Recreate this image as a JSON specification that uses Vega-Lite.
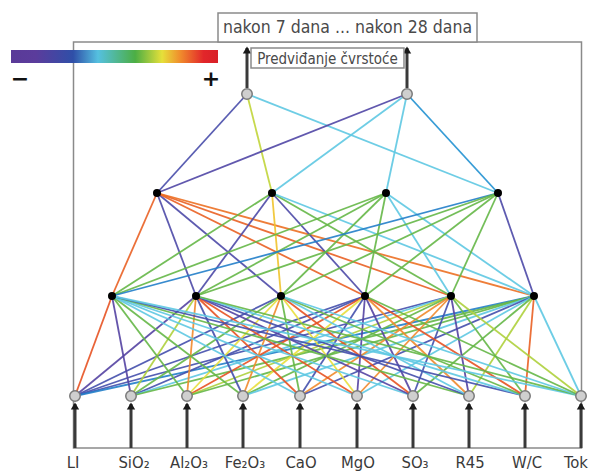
{
  "$schema": "https://vega.github.io/schema/vega-lite/v6.json",
  "width": 590,
  "height": 471,
  "padding": 0,
  "autosize": {"type": "none"},
  "background": "white",
  "config": {"view": {"stroke": null}},
  "datasets": {
    "nodes": [
      {"id": "i1", "kind": "io", "x": 75, "y": 396},
      {"id": "i2", "kind": "io", "x": 131, "y": 396},
      {"id": "i3", "kind": "io", "x": 187, "y": 396},
      {"id": "i4", "kind": "io", "x": 243, "y": 396},
      {"id": "i5", "kind": "io", "x": 300, "y": 396},
      {"id": "i6", "kind": "io", "x": 357, "y": 396},
      {"id": "i7", "kind": "io", "x": 413, "y": 396},
      {"id": "i8", "kind": "io", "x": 469, "y": 396},
      {"id": "i9", "kind": "io", "x": 525, "y": 396},
      {"id": "i10", "kind": "io", "x": 581, "y": 396},
      {"id": "a", "kind": "hidden", "x": 112, "y": 296},
      {"id": "b", "kind": "hidden", "x": 196, "y": 296},
      {"id": "c", "kind": "hidden", "x": 281, "y": 296},
      {"id": "d", "kind": "hidden", "x": 365, "y": 296},
      {"id": "e", "kind": "hidden", "x": 451, "y": 296},
      {"id": "f", "kind": "hidden", "x": 534, "y": 296},
      {"id": "A", "kind": "hidden", "x": 157, "y": 193},
      {"id": "B", "kind": "hidden", "x": 272, "y": 193},
      {"id": "C", "kind": "hidden", "x": 386, "y": 193},
      {"id": "D", "kind": "hidden", "x": 498, "y": 193},
      {"id": "o1", "kind": "io", "x": 247, "y": 94},
      {"id": "o2", "kind": "io", "x": 407, "y": 94}
    ],
    "edges": [
      {"s": "i1", "t": "a", "w": 0.9}, {"s": "i1", "t": "b", "w": -0.9}, {"s": "i1", "t": "c", "w": -0.7}, {"s": "i1", "t": "d", "w": -0.7}, {"s": "i1", "t": "e", "w": -0.7}, {"s": "i1", "t": "f", "w": -0.5},
      {"s": "i2", "t": "a", "w": -0.9}, {"s": "i2", "t": "b", "w": 0.25}, {"s": "i2", "t": "c", "w": 0.05}, {"s": "i2", "t": "d", "w": -0.7}, {"s": "i2", "t": "e", "w": -0.3}, {"s": "i2", "t": "f", "w": 0.05},
      {"s": "i3", "t": "a", "w": 0.05}, {"s": "i3", "t": "b", "w": 0.7}, {"s": "i3", "t": "c", "w": 0.4}, {"s": "i3", "t": "d", "w": 0.9}, {"s": "i3", "t": "e", "w": 0.25}, {"s": "i3", "t": "f", "w": 0.05},
      {"s": "i4", "t": "a", "w": 0.05}, {"s": "i4", "t": "b", "w": -0.7}, {"s": "i4", "t": "c", "w": 0.7}, {"s": "i4", "t": "d", "w": 0.4}, {"s": "i4", "t": "e", "w": 0.05}, {"s": "i4", "t": "f", "w": -0.3},
      {"s": "i5", "t": "a", "w": -0.3}, {"s": "i5", "t": "b", "w": 0.9}, {"s": "i5", "t": "c", "w": 0.05}, {"s": "i5", "t": "d", "w": -0.7}, {"s": "i5", "t": "e", "w": 0.7}, {"s": "i5", "t": "f", "w": -0.7},
      {"s": "i6", "t": "a", "w": -0.3}, {"s": "i6", "t": "b", "w": 0.9}, {"s": "i6", "t": "c", "w": 0.4}, {"s": "i6", "t": "d", "w": -0.9}, {"s": "i6", "t": "e", "w": 0.7}, {"s": "i6", "t": "f", "w": -0.3},
      {"s": "i7", "t": "a", "w": -0.3}, {"s": "i7", "t": "b", "w": -0.9}, {"s": "i7", "t": "c", "w": 0.9}, {"s": "i7", "t": "d", "w": -0.9}, {"s": "i7", "t": "e", "w": -0.7}, {"s": "i7", "t": "f", "w": 0.05},
      {"s": "i8", "t": "a", "w": 0.05}, {"s": "i8", "t": "b", "w": -0.7}, {"s": "i8", "t": "c", "w": -0.3}, {"s": "i8", "t": "d", "w": 0.7}, {"s": "i8", "t": "e", "w": -0.9}, {"s": "i8", "t": "f", "w": 0.25},
      {"s": "i9", "t": "a", "w": -0.7}, {"s": "i9", "t": "b", "w": -0.3}, {"s": "i9", "t": "c", "w": 0.05}, {"s": "i9", "t": "d", "w": 0.9}, {"s": "i9", "t": "e", "w": 0.05}, {"s": "i9", "t": "f", "w": 0.85},
      {"s": "i10", "t": "a", "w": -0.3}, {"s": "i10", "t": "b", "w": 0.05}, {"s": "i10", "t": "c", "w": -0.3}, {"s": "i10", "t": "d", "w": 0.05}, {"s": "i10", "t": "e", "w": 0.25}, {"s": "i10", "t": "f", "w": -0.3},
      {"s": "a", "t": "A", "w": 0.85}, {"s": "b", "t": "A", "w": -0.8}, {"s": "c", "t": "A", "w": -0.8}, {"s": "d", "t": "A", "w": 0.85}, {"s": "e", "t": "A", "w": 0.85}, {"s": "f", "t": "A", "w": 0.8},
      {"s": "a", "t": "B", "w": 0.05}, {"s": "b", "t": "B", "w": -0.8}, {"s": "c", "t": "B", "w": 0.5}, {"s": "d", "t": "B", "w": -0.8}, {"s": "e", "t": "B", "w": 0.05}, {"s": "f", "t": "B", "w": -0.3},
      {"s": "a", "t": "C", "w": 0.05}, {"s": "b", "t": "C", "w": 0.05}, {"s": "c", "t": "C", "w": 0.05}, {"s": "d", "t": "C", "w": 0.05}, {"s": "e", "t": "C", "w": -0.3}, {"s": "f", "t": "C", "w": -0.3},
      {"s": "a", "t": "D", "w": -0.5}, {"s": "b", "t": "D", "w": 0.05}, {"s": "c", "t": "D", "w": 0.05}, {"s": "d", "t": "D", "w": 0.05}, {"s": "e", "t": "D", "w": 0.05}, {"s": "f", "t": "D", "w": -0.8},
      {"s": "A", "t": "o1", "w": -0.75}, {"s": "B", "t": "o1", "w": 0.3}, {"s": "D", "t": "o1", "w": -0.3},
      {"s": "A", "t": "o2", "w": -0.85}, {"s": "B", "t": "o2", "w": -0.3}, {"s": "C", "t": "o2", "w": -0.3}, {"s": "D", "t": "o2", "w": -0.45}
    ],
    "arrows": [
      {"x": 75, "y": 448, "y2": 404, "tip": 406},
      {"x": 131, "y": 448, "y2": 404, "tip": 406},
      {"x": 187, "y": 448, "y2": 404, "tip": 406},
      {"x": 243, "y": 448, "y2": 404, "tip": 406},
      {"x": 300, "y": 448, "y2": 404, "tip": 406},
      {"x": 357, "y": 448, "y2": 404, "tip": 406},
      {"x": 413, "y": 448, "y2": 404, "tip": 406},
      {"x": 469, "y": 448, "y2": 404, "tip": 406},
      {"x": 525, "y": 448, "y2": 404, "tip": 406},
      {"x": 581, "y": 448, "y2": 404, "tip": 406},
      {"x": 247, "y": 88, "y2": 48, "tip": 50},
      {"x": 407, "y": 88, "y2": 48, "tip": 50}
    ],
    "labels": [
      {"x": 73, "label": "LI"},
      {"x": 134, "label": "SiO₂"},
      {"x": 189, "label": "Al₂O₃"},
      {"x": 245, "label": "Fe₂O₃"},
      {"x": 301, "label": "CaO"},
      {"x": 358, "label": "MgO"},
      {"x": 415, "label": "SO₃"},
      {"x": 470, "label": "R45"},
      {"x": 527, "label": "W/C"},
      {"x": 576, "label": "Tok"}
    ],
    "boxes": [
      {"x": 218, "y": 13, "x2": 477, "y2": 42, "tx": 347.5, "ty": 28, "text": "nakon 7 dana ... nakon 28 dana", "fs": 17.5},
      {"x": 251, "y": 48, "x2": 404, "y2": 68, "tx": 327.5, "ty": 58.5, "text": "Predviđanje čvrstoće", "fs": 15}
    ]
  },
  "encoding": {
    "x": {"type": "quantitative", "scale": {"domain": [0, 590], "nice": false, "zero": false}, "axis": null},
    "y": {"type": "quantitative", "scale": {"domain": [0, 471], "nice": false, "zero": false, "reverse": true}, "axis": null}
  },
  "layer": [
    {
      "data": {"values": [{"x": 73.5, "y": 42, "x2": 581.5, "y2": 448}]},
      "mark": {"type": "rect", "fill": null, "stroke": "#8a8a8a", "strokeWidth": 1.5},
      "encoding": {"x": {"field": "x"}, "y": {"field": "y"}, "x2": {"field": "x2"}, "y2": {"field": "y2"}}
    },
    {
      "data": {"name": "edges"},
      "transform": [
        {"lookup": "s", "from": {"data": {"name": "nodes"}, "key": "id", "fields": ["x", "y"]}, "as": ["sx", "sy"]},
        {"lookup": "t", "from": {"data": {"name": "nodes"}, "key": "id", "fields": ["x", "y"]}, "as": ["tx", "ty"]}
      ],
      "mark": {"type": "rule", "strokeWidth": 1.8, "opacity": 0.9},
      "encoding": {
        "x": {"field": "sx"}, "y": {"field": "sy"}, "x2": {"field": "tx"}, "y2": {"field": "ty"},
        "color": {"field": "w", "type": "quantitative", "legend": null,
          "scale": {"domain": [-1, -0.6, -0.3, 0, 0.4, 0.7, 1], "range": ["#5b3c9c", "#3a55b0", "#5ec8e2", "#52b04a", "#e8df3c", "#f08a2c", "#e02a24"]}}
      }
    },
    {
      "data": {"name": "arrows"},
      "mark": {"type": "rule", "strokeWidth": 3, "color": "#3a3a3a"},
      "encoding": {"x": {"field": "x"}, "y": {"field": "y"}, "y2": {"field": "y2"}}
    },
    {
      "data": {"name": "arrows"},
      "mark": {"type": "point", "shape": "triangle-up", "filled": true, "color": "#1a1a1a", "size": 70, "opacity": 1},
      "encoding": {"x": {"field": "x"}, "y": {"field": "tip"}}
    },
    {
      "data": {"name": "nodes"},
      "transform": [{"filter": "datum.kind === 'io'"}],
      "mark": {"type": "point", "shape": "circle", "filled": true, "fill": "#cfcfcf", "stroke": "#7a7a7a", "strokeWidth": 1.5, "size": 110, "opacity": 1},
      "encoding": {"x": {"field": "x"}, "y": {"field": "y"}}
    },
    {
      "data": {"name": "nodes"},
      "transform": [{"filter": "datum.kind === 'hidden'"}],
      "mark": {"type": "point", "shape": "circle", "filled": true, "color": "#000000", "size": 65, "opacity": 1},
      "encoding": {"x": {"field": "x"}, "y": {"field": "y"}}
    },
    {
      "data": {"name": "boxes"},
      "mark": {"type": "rect", "fill": "white", "stroke": "#8a8a8a", "strokeWidth": 1.5},
      "encoding": {"x": {"field": "x"}, "y": {"field": "y"}, "x2": {"field": "x2"}, "y2": {"field": "y2"}}
    },
    {
      "data": {"name": "boxes"},
      "mark": {"type": "text", "font": "Liberation Sans Narrow, DejaVu Sans Condensed, Roboto, sans-serif", "color": "#4a4a4a", "align": "center", "baseline": "middle"},
      "encoding": {"x": {"field": "tx"}, "y": {"field": "ty"}, "text": {"field": "text"}, "size": {"field": "fs", "type": "quantitative", "scale": null}}
    },
    {
      "data": {"values": [{"x": 11, "y": 50, "x2": 218, "y2": 63}]},
      "mark": {"type": "rect", "fill": {"gradient": "linear", "x1": 0, "y1": 0, "x2": 1, "y2": 0, "stops": [
        {"offset": 0, "color": "#5a3a98"}, {"offset": 0.12, "color": "#5b3c9c"}, {"offset": 0.3, "color": "#2f4fa8"}, {"offset": 0.42, "color": "#55c0e0"}, {"offset": 0.6, "color": "#4cae44"}, {"offset": 0.73, "color": "#e6e03a"}, {"offset": 0.82, "color": "#f08a2c"}, {"offset": 0.93, "color": "#e2262a"}, {"offset": 1, "color": "#d82028"}]}},
      "encoding": {"x": {"field": "x"}, "y": {"field": "y"}, "x2": {"field": "x2"}, "y2": {"field": "y2"}}
    },
    {
      "data": {"values": [{"x": 20, "y": 79, "t": "−"}, {"x": 211, "y": 79, "t": "+"}]},
      "mark": {"type": "text", "font": "DejaVu Sans", "fontSize": 22, "fontWeight": "bold", "color": "#111111", "align": "center", "baseline": "middle"},
      "encoding": {"x": {"field": "x"}, "y": {"field": "y"}, "text": {"field": "t"}}
    },
    {
      "data": {"name": "labels"},
      "mark": {"type": "text", "font": "Liberation Sans Narrow, DejaVu Sans Condensed, Roboto, sans-serif", "fontSize": 16.5, "color": "#3a3a3a", "align": "center", "baseline": "middle"},
      "encoding": {"x": {"field": "x"}, "y": {"datum": 463}, "text": {"field": "label"}}
    }
  ]
}
